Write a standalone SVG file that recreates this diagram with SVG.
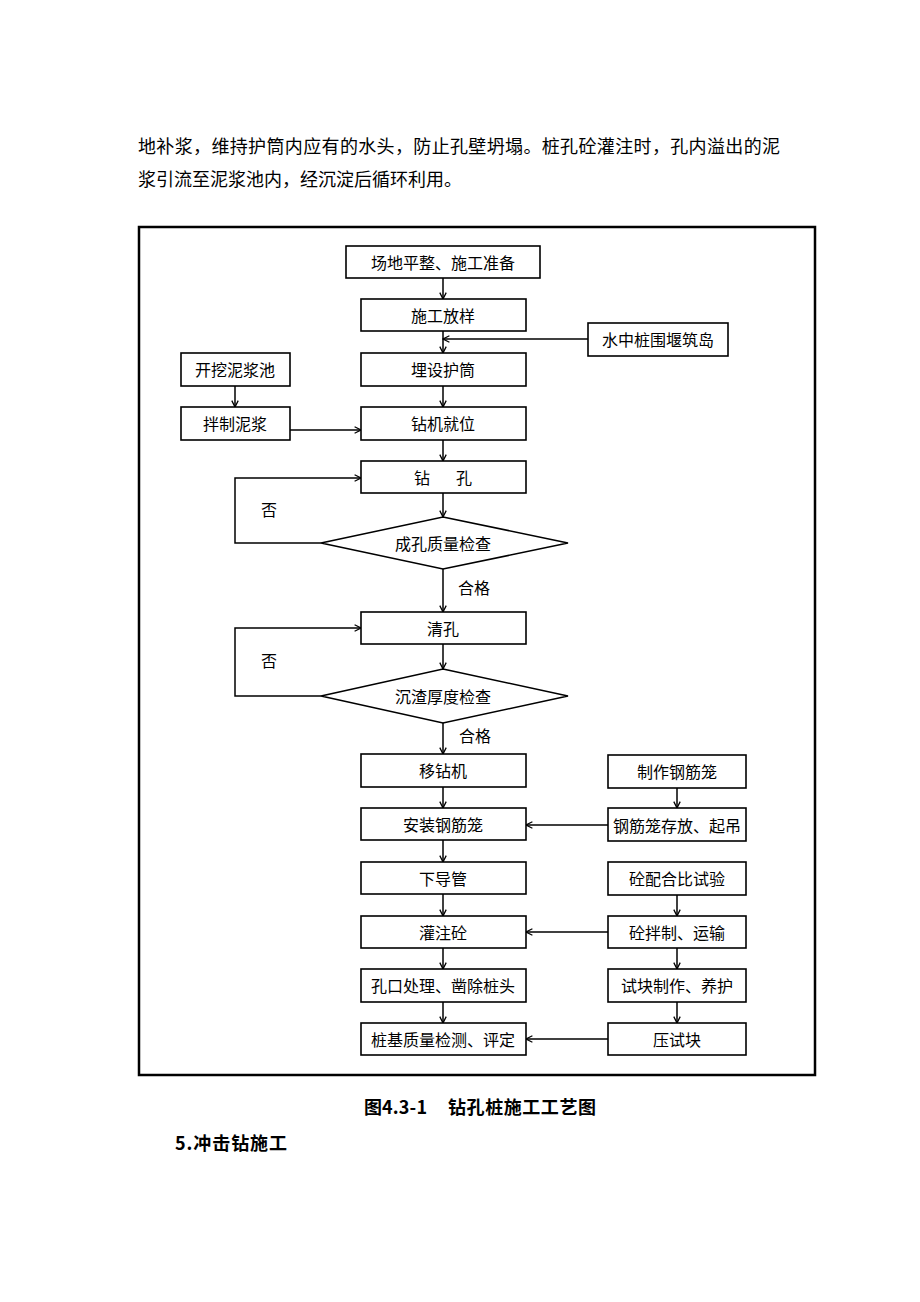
<svg xmlns="http://www.w3.org/2000/svg" width="920" height="1302" viewBox="0 0 920 1302">
<style>
text{font-family:"Noto Sans CJK SC","Noto Sans CJK JP",sans-serif;fill:#000}
.p{font-size:18px}
.t{font-size:16px;text-anchor:middle;dominant-baseline:central}
.b{fill:#fff;stroke:#000;stroke-width:1.6}
.c{fill:none;stroke:#000;stroke-width:1.5}
.cap{font-size:18px;font-weight:bold}
</style>
<defs>
<marker id="a" viewBox="0 0 10 10" refX="9" refY="5" markerWidth="8" markerHeight="8" markerUnits="userSpaceOnUse" orient="auto">
<path d="M1,1 L9,5 L1,9" fill="none" stroke="#000" stroke-width="1.6"/>
</marker>
</defs>
<rect width="920" height="1302" fill="#fff"/>
<text class="p" x="138" y="145" dominant-baseline="central" textLength="642" lengthAdjust="spacing">地补浆，维持护筒内应有的水头，防止孔壁坍塌。桩孔砼灌注时，孔内溢出的泥</text>
<text class="p" x="138" y="178" dominant-baseline="central">浆引流至泥浆池内，经沉淀后循环利用。</text>
<rect x="139" y="227" width="676" height="848" fill="none" stroke="#000" stroke-width="2.5"/>
<g id="connectors">
<line class="c" x1="443" y1="278" x2="443" y2="299" marker-end="url(#a)"/>
<line class="c" x1="443" y1="331" x2="443" y2="353" marker-end="url(#a)"/>
<line class="c" x1="588" y1="339" x2="443" y2="339" marker-end="url(#a)"/>
<line class="c" x1="235" y1="386" x2="235" y2="407" marker-end="url(#a)"/>
<line class="c" x1="443" y1="386" x2="443" y2="407" marker-end="url(#a)"/>
<line class="c" x1="290" y1="430" x2="361" y2="430" marker-end="url(#a)"/>
<line class="c" x1="443" y1="440" x2="443" y2="461" marker-end="url(#a)"/>
<line class="c" x1="443" y1="493" x2="443" y2="517" marker-end="url(#a)"/>
<polyline class="c" points="321,543 235,543 235,478 361,478" marker-end="url(#a)"/>
<line class="c" x1="443" y1="569" x2="443" y2="612" marker-end="url(#a)"/>
<line class="c" x1="443" y1="644" x2="443" y2="669" marker-end="url(#a)"/>
<polyline class="c" points="321,696 235,696 235,628 361,628" marker-end="url(#a)"/>
<line class="c" x1="443" y1="723" x2="443" y2="754" marker-end="url(#a)"/>
<line class="c" x1="443" y1="787" x2="443" y2="808" marker-end="url(#a)"/>
<line class="c" x1="677" y1="788" x2="677" y2="808" marker-end="url(#a)"/>
<line class="c" x1="608" y1="825" x2="526" y2="825" marker-end="url(#a)"/>
<line class="c" x1="443" y1="840" x2="443" y2="862" marker-end="url(#a)"/>
<line class="c" x1="677" y1="895" x2="677" y2="916" marker-end="url(#a)"/>
<line class="c" x1="443" y1="894" x2="443" y2="916" marker-end="url(#a)"/>
<line class="c" x1="608" y1="932" x2="526" y2="932" marker-end="url(#a)"/>
<line class="c" x1="443" y1="948" x2="443" y2="969" marker-end="url(#a)"/>
<line class="c" x1="677" y1="948" x2="677" y2="969" marker-end="url(#a)"/>
<line class="c" x1="443" y1="1002" x2="443" y2="1023" marker-end="url(#a)"/>
<line class="c" x1="677" y1="1002" x2="677" y2="1023" marker-end="url(#a)"/>
<line class="c" x1="608" y1="1039" x2="526" y2="1039" marker-end="url(#a)"/>
</g>
<g id="n1"><rect class="b" x="346" y="246" width="194" height="32"/><text class="t" x="443" y="262">场地平整、施工准备</text></g>
<g id="n2"><rect class="b" x="361" y="299" width="165" height="32"/><text class="t" x="443" y="315">施工放样</text></g>
<g id="n3"><rect class="b" x="588" y="323" width="140" height="33"/><text class="t" x="658" y="339">水中桩围堰筑岛</text></g>
<g id="n4"><rect class="b" x="361" y="353" width="165" height="33"/><text class="t" x="443" y="369">埋设护筒</text></g>
<g id="n5"><rect class="b" x="181" y="353" width="109" height="33"/><text class="t" x="235" y="369">开挖泥浆池</text></g>
<g id="n6"><rect class="b" x="181" y="407" width="109" height="33"/><text class="t" x="235" y="423">拌制泥浆</text></g>
<g id="n7"><rect class="b" x="361" y="407" width="165" height="33"/><text class="t" x="443" y="423">钻机就位</text></g>
<g id="n8"><rect class="b" x="361" y="461" width="165" height="32"/><text class="t" x="443" y="477" xml:space="preserve" textLength="58" lengthAdjust="spacing">钻      孔</text></g>
<g id="d1"><polygon class="b" points="443,517 568,543 443,569 321,543"/><text class="t" x="443" y="543">成孔质量检查</text></g>
<text class="t" x="269" y="509">否</text>
<text class="t" x="474" y="587">合格</text>
<g id="n9"><rect class="b" x="361" y="612" width="165" height="32"/><text class="t" x="443" y="628">清孔</text></g>
<g id="d2"><polygon class="b" points="443,669 568,696 443,723 321,696"/><text class="t" x="443" y="696">沉渣厚度检查</text></g>
<text class="t" x="269" y="660">否</text>
<text class="t" x="475" y="735">合格</text>
<g id="n10"><rect class="b" x="361" y="754" width="165" height="33"/><text class="t" x="443" y="770">移钻机</text></g>
<g id="n11"><rect class="b" x="608" y="755" width="138" height="33"/><text class="t" x="677" y="771">制作钢筋笼</text></g>
<g id="n12"><rect class="b" x="361" y="808" width="165" height="32"/><text class="t" x="443" y="824">安装钢筋笼</text></g>
<g id="n13"><rect class="b" x="608" y="808" width="138" height="33"/><text class="t" x="677" y="825">钢筋笼存放、起吊</text></g>
<g id="n14"><rect class="b" x="361" y="862" width="165" height="32"/><text class="t" x="443" y="878">下导管</text></g>
<g id="n15"><rect class="b" x="608" y="862" width="138" height="33"/><text class="t" x="677" y="878">砼配合比试验</text></g>
<g id="n16"><rect class="b" x="361" y="916" width="165" height="32"/><text class="t" x="443" y="932">灌注砼</text></g>
<g id="n17"><rect class="b" x="608" y="916" width="138" height="32"/><text class="t" x="677" y="932">砼拌制、运输</text></g>
<g id="n18"><rect class="b" x="361" y="969" width="165" height="33"/><text class="t" x="443" y="985">孔口处理、凿除桩头</text></g>
<g id="n19"><rect class="b" x="608" y="969" width="138" height="33"/><text class="t" x="677" y="985">试块制作、养护</text></g>
<g id="n20"><rect class="b" x="361" y="1023" width="165" height="32"/><text class="t" x="443" y="1039">桩基质量检测、评定</text></g>
<g id="n21"><rect class="b" x="608" y="1023" width="138" height="32"/><text class="t" x="677" y="1039">压试块</text></g>
<text class="cap" x="364" y="1106" dominant-baseline="central" textLength="63" lengthAdjust="spacing">图4.3-1</text>
<text class="cap" x="448" y="1106" dominant-baseline="central" textLength="148" lengthAdjust="spacing">钻孔桩施工工艺图</text>
<text class="cap" x="175" y="1142" dominant-baseline="central" textLength="112" lengthAdjust="spacing">5.冲击钻施工</text>
</svg>
